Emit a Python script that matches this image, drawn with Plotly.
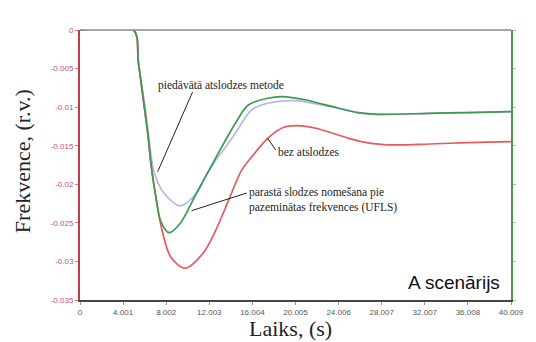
import plotly.graph_objects as go

# ---- data ----
x_tick_labels = ["0", "4.001", "8.002", "12.003", "16.004", "20.005", "24.006",
                 "28.007", "32.007", "36.008", "40.009"]
y_tick_vals = [0, -0.005, -0.01, -0.015, -0.02, -0.025, -0.03, -0.035]
y_tick_labels = ["0", "-0.005", "-0.01", "-0.015", "-0.02", "-0.025", "-0.03", "-0.035"]

# bez atslodzes (red)
t_red = [0, 4.96, 5.41, 5.86, 6.31, 6.6, 7.06, 7.51, 8.41, 9.76, 11.42, 12.62, 13.81,
         15.02, 16.2, 17.42, 18.92, 20.12, 21.92, 24.93, 27.03, 29.13, 32.44, 36.0, 40.009]
v_red = [0, 0, -0.00411, -0.00885, -0.01361, -0.0175, -0.02181, -0.0253, -0.02938,
         -0.03088, -0.02894, -0.02592, -0.02203, -0.01814, -0.0160, -0.01404, -0.01261,
         -0.0124, -0.01274, -0.01404, -0.01469, -0.0149, -0.01478, -0.0146, -0.01448]

# parastā slodzes nomešana (UFLS) (green)
t_green = [0, 4.96, 5.41, 5.86, 6.31, 6.6, 7.06, 7.51, 8.26, 9.31, 10.81, 12.32, 13.52,
           14.42, 15.62, 17.42, 18.77, 21.0, 22.2, 23.43, 25.8, 27.64, 32.4, 36.0, 40.009]
v_green = [0, 0, -0.00411, -0.00885, -0.01361, -0.0175, -0.02181, -0.02484, -0.02627,
           -0.02505, -0.02116, -0.01728, -0.01426, -0.01209, -0.00972, -0.00885, -0.00864,
           -0.00907, -0.0095, -0.00994, -0.01071, -0.01093, -0.0108, -0.0107, -0.01059]

# piedāvātā atslodzes metode (lavender)
t_lav = [0, 4.96, 5.41, 6.01, 6.31, 6.91, 7.81, 9.31, 10.81, 11.71, 12.62, 13.52, 14.42,
         15.92, 17.42, 19.98, 21.8, 23.43, 25.8, 27.64, 32.4, 36.0, 40.009]
v_lav = [0, 0, -0.00411, -0.00972, -0.01296, -0.01858, -0.02117, -0.0228, -0.02117,
         -0.01892, -0.01685, -0.01517, -0.01339, -0.01037, -0.0095, -0.00916, -0.00955,
         -0.00994, -0.01071, -0.01093, -0.0108, -0.0107, -0.01059]

# leader-line endpoints (label -> curve), data coords
lead_metode = ([10.45, 7.21], [-0.00804, -0.01837])
lead_bez = ([17.42, 18.17], [-0.01404, -0.01556])
lead_ufls = ([15.47, 10.36], [-0.02113, -0.02342])

x_tick_vals = [float(s) for s in x_tick_labels]

fig = go.Figure()
spl = dict(width=1.7, shape="spline", smoothing=0.9)
fig.add_trace(go.Scatter(x=t_lav, y=v_lav, mode="lines",
                         line=dict(color="#b6b6ec", **spl),
                         showlegend=False, hoverinfo="skip"))
fig.add_trace(go.Scatter(x=t_red, y=v_red, mode="lines",
                         line=dict(color="#e55a5c", **spl),
                         showlegend=False, hoverinfo="skip"))
fig.add_trace(go.Scatter(x=t_green, y=v_green, mode="lines",
                         line=dict(color="#3f9a50", **spl),
                         showlegend=False, hoverinfo="skip"))
for lx, ly in (lead_metode, lead_bez, lead_ufls):
    fig.add_trace(go.Scatter(x=lx, y=ly, mode="lines", line=dict(color="#222", width=1),
                             showlegend=False, hoverinfo="skip"))
# empty trace for right (green) axis
fig.add_trace(go.Scatter(x=[], y=[], yaxis="y2", showlegend=False))

serif = "Liberation Serif, DejaVu Serif, serif"
sans = "Liberation Sans, Arial, sans-serif"

fig.update_layout(
    width=536, height=342,
    margin=dict(l=80, r=12, t=30, b=42),
    paper_bgcolor="white", plot_bgcolor="white",
    xaxis=dict(range=[0, 40.009], tickvals=x_tick_vals, ticktext=x_tick_labels,
               showgrid=False, zeroline=False, showline=True, linecolor="#444",
               linewidth=2, ticks="outside", ticklen=3, tickcolor="#999",
               tickfont=dict(family=sans, size=8, color="#555")),
    yaxis=dict(range=[-0.035, 0], tickvals=y_tick_vals, ticktext=y_tick_labels,
               showgrid=False, zeroline=False, showline=True, linecolor="#c23a48",
               linewidth=2, ticks="outside", ticklen=3, tickcolor="#d08090",
               tickfont=dict(family=sans, size=8, color="#c8506a")),
    yaxis2=dict(range=[-0.035, 0], tickvals=y_tick_vals, overlaying="y", side="right",
                anchor="x", showgrid=False, zeroline=False, showline=True,
                linecolor="#4c9a50", linewidth=2, ticks="outside", ticklen=3,
                tickcolor="#9c9", showticklabels=False),
    shapes=[dict(type="line", xref="paper", yref="paper", x0=0, x1=1, y0=1, y1=1,
                 line=dict(color="#888", width=1.5))],
    annotations=[
        dict(text="piedāvātā atslodzes metode", x=7.03, y=-0.00713, xref="x", yref="y",
             xanchor="left", yanchor="middle", showarrow=False,
             font=dict(family=serif, size=11.5, color="#222")),
        dict(text="bez atslodzes", x=18.2, y=-0.01575, xref="x", yref="y",
             xanchor="left", yanchor="middle", showarrow=False,
             font=dict(family=serif, size=11.5, color="#222")),
        dict(text="parastā slodzes nomešana pie<br>pazeminātas frekvences (UFLS)",
             x=15.5, y=-0.02204, xref="x", yref="y", xanchor="left", yanchor="middle",
             align="left", showarrow=False,
             font=dict(family=serif, size=11.5, color="#222")),
        dict(text="A scenārijs", x=0.98, y=0.063, xref="paper", yref="paper",
             xanchor="right", yanchor="middle", showarrow=False,
             font=dict(family=sans, size=19, color="#111")),
        dict(text="Frekvence, (r.v.)", x=-0.133, y=0.513, xref="paper", yref="paper",
             xanchor="center", yanchor="middle", textangle=-90, showarrow=False,
             font=dict(family=serif, size=22, color="#222")),
        dict(text="Laiks, (s)", x=0.489, y=-0.107, xref="paper", yref="paper",
             xanchor="center", yanchor="middle", showarrow=False,
             font=dict(family=serif, size=22, color="#222")),
    ],
)

fig.write_html("out.html")
